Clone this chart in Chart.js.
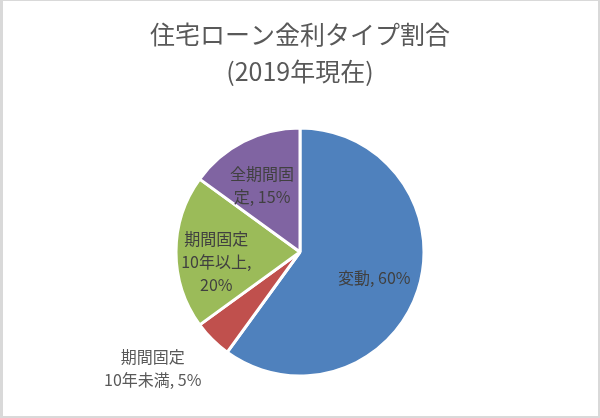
<!DOCTYPE html>
<html>
<head>
<meta charset="utf-8">
<script src="https://cdn.jsdelivr.net/npm/chart.js@4"></script>
<style>
    body { margin: 0; background: #fff; }
    #wrap { position: relative; width: 600px; height: 418px; }
    #frame { position: absolute; left: 0; top: 0; right: 0; bottom: 0; box-sizing: border-box;
             border: 2px solid #d9d9d9; border-left-width: 3px; border-top-width: 1px; pointer-events: none; }
</style>
</head>
<body>
<div id="wrap">
    <canvas id="chartpie" width="600" height="418"></canvas>
    <div id="frame"></div>
</div>
<script>
// 金利タイプ別の割合 (%)
var categories = ['変動', '期間固定10年未満', '期間固定10年以上', '全期間固定'];
var shares = [60, 5, 20, 15];
var sliceColors = ['#4F81BD', '#C0504D', '#9BBB59', '#8064A2'];

// データラベル (改行位置は元の図に合わせる)
var labelLines = [
    ['変動, 60%'],
    ['期間固定', '10年未満, 5%'],
    ['期間固定', '10年以上,', '20%'],
    ['全期間固', '定, 15%']
];

var titleLines = ['住宅ローン金利タイプ割合', '(2019年現在)'];

var FONT = '"Noto Sans CJK JP", "Noto Sans", sans-serif';

// ラベル描画用の簡易プラグイン
var sliceLabelPlugin = {
    id: 'sliceLabels',
    afterDatasetsDraw: function (chart, args, opts) {
        var ctx = chart.ctx;
        var meta = chart.getDatasetMeta(0);
        ctx.save();
        ctx.font = opts.size + 'px ' + FONT;
        ctx.textAlign = 'center';
        ctx.textBaseline = 'middle';
        meta.data.forEach(function (arc, i) {
            var p = arc.getProps(['x', 'y', 'startAngle', 'endAngle', 'outerRadius'], true);
            var mid = (p.startAngle + p.endAngle) / 2;
            var cx = p.x + Math.cos(mid) * p.outerRadius * opts.radial[i] + opts.shift[i][0];
            var cy = p.y + Math.sin(mid) * p.outerRadius * opts.radial[i] + opts.shift[i][1];
            var lines = labelLines[i];
            ctx.fillStyle = opts.colors[i];
            for (var k = 0; k < lines.length; k++) {
                ctx.fillText(lines[k], cx, cy + (k - (lines.length - 1) / 2) * opts.lineHeight);
            }
        });
        ctx.restore();
    }
};

var chartArea = document.getElementById('chartpie').getContext('2d');
var chartpie = new Chart(chartArea, {
    type: 'pie',
    data: {
        labels: categories,
        datasets: [{
            data: shares,
            backgroundColor: sliceColors,
            borderColor: '#ffffff',
            borderWidth: 3,
            radius: 124
        }]
    },
    options: {
        responsive: false,
        animation: false,
        layout: { padding: { top: 0, bottom: 24, left: 0, right: 0 } },
        plugins: {
            legend: { display: false },
            tooltip: { enabled: false },
            title: {
                display: true,
                text: titleLines,
                color: '#595959',
                font: { family: FONT, size: 25, weight: 'normal', lineHeight: 1.48 },
                padding: { top: 16, bottom: 20 }
            },
            sliceLabels: {
                size: 16,
                lineHeight: 23,
                radial: [0.63, 1.2, 0.675, 0.62],
                shift: [[0, 2], [-42, 11], [0, 10], [-3, 2]],
                colors: ['#404040', '#595959', '#404040', '#404040']
            }
        }
    },
    plugins: [sliceLabelPlugin]
});
</script>
</body>
</html>
